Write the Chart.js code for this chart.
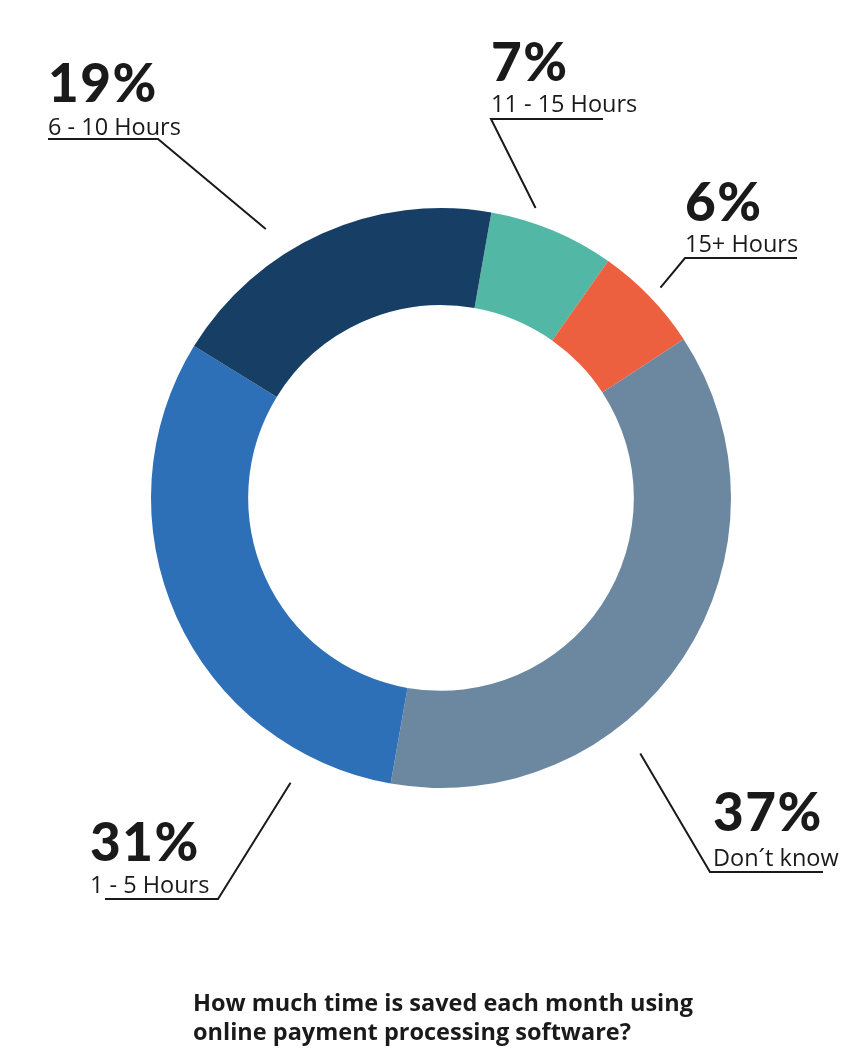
<!DOCTYPE html>
<html>
<head>
<meta charset="utf-8">
<script src="https://cdn.jsdelivr.net/npm/chart.js@4.4.1/dist/chart.umd.min.js"></script>
<style>
  html, body { margin: 0; padding: 0; background: #fff; }
  #wrap { position: relative; width: 866px; height: 1060px; }
  #title {
    position: absolute; left: 193px; top: 988px;
    font-family: "Open Sans", sans-serif; font-weight: 700;
    font-size: 23.5px; line-height: 29px; color: #1a1a1a;
  }
</style>
</head>
<body>
<div id="wrap">
  <canvas id="donut"></canvas>
  <div id="title">How much time is saved each month using<br>online payment processing software?</div>
</div>
<script>
'use strict'

// Datos
var categories = ['11 - 15 Hours', '15+ Hours', 'Don\u00b4t know', '1 - 5 Hours', '6 - 10 Hours']
var shares = [7, 6, 37, 31, 19]
var percentLabels = ['7%', '6%', '37%', '31%', '19%']
var sliceColors = ['#53b7a5', '#ec5f3f', '#6b88a0', '#2e70b7', '#173f66']

// Colocación de las etiquetas (t = posición dentro del arco, elbow relativo al centro)
var callouts = [
  { t: 0.32, gap: 15, elbow: [50, -379], dir: 1, len: 112, textDx: 0, labelDy: -7, pctDy: -31 },
  { t: 0.51, gap: 14, elbow: [244, -240], dir: 1, len: 112, textDx: 0, labelDy: -6, pctDy: -31 },
  { t: 0.64, gap: 34, elbow: [269, 374], dir: 1, len: 113, textDx: 3, labelDy: -6, pctDy: -35 },
  { t: 0.16, gap: 32, elbow: [-223, 401], dir: -1, len: 113, textDx: -128, labelDy: -6, pctDy: -32 },
  { t: 0.37, gap: 31, elbow: [-283, -359], dir: -1, len: 110, textDx: -110, labelDy: -4, pctDy: -33 }
]

var calloutPlugin = {
  id: 'callouts',
  afterDraw: function (chart) {
    var ctx = chart.ctx
    var meta = chart.getDatasetMeta(0)
    ctx.save()
    meta.data.forEach(function (arc, i) {
      var c = callouts[i]
      var a = arc.startAngle + c.t * (arc.endAngle - arc.startAngle)
      var r = arc.outerRadius + c.gap
      var sx = arc.x + Math.cos(a) * r
      var sy = arc.y + Math.sin(a) * r
      var ex = arc.x + c.elbow[0]
      var ey = arc.y + c.elbow[1]

      ctx.strokeStyle = '#1a1a1a'
      ctx.lineWidth = 2
      ctx.beginPath()
      ctx.moveTo(sx, sy)
      ctx.lineTo(ex, ey)
      ctx.lineTo(ex + c.dir * c.len, ey)
      ctx.stroke()

      var tx = ex + c.textDx
      ctx.fillStyle = '#1a1a1a'
      ctx.textAlign = 'left'
      ctx.textBaseline = 'alphabetic'
      ctx.letterSpacing = '0px'
      ctx.font = '400 23.5px "Open Sans", sans-serif'
      ctx.fillText(categories[i], tx, ey + c.labelDy)
      ctx.letterSpacing = '1.5px'
      ctx.font = '900 53px Lato, "Roboto", sans-serif'
      ctx.fillText(percentLabels[i], tx, ey + c.labelDy + c.pctDy)
    })
    ctx.restore()
  }
}

var donutCanvas = document.getElementById('donut').getContext('2d')

var donutChart = new Chart(donutCanvas, {
  type: 'doughnut',
  data: {
    labels: categories,
    datasets: [{
      data: shares,
      backgroundColor: sliceColors,
      borderWidth: 0,
      hoverOffset: 0
    }]
  },
  options: {
    responsive: true,
    maintainAspectRatio: false,
    animation: false,
    devicePixelRatio: 1,
    rotation: 10,
    cutout: '66.5%',
    layout: {
      padding: { left: 151, right: 135, top: 208, bottom: 272 }
    },
    plugins: {
      legend: { display: false },
      tooltip: { enabled: false }
    }
  },
  plugins: [calloutPlugin]
})
</script>
</body>
</html>
